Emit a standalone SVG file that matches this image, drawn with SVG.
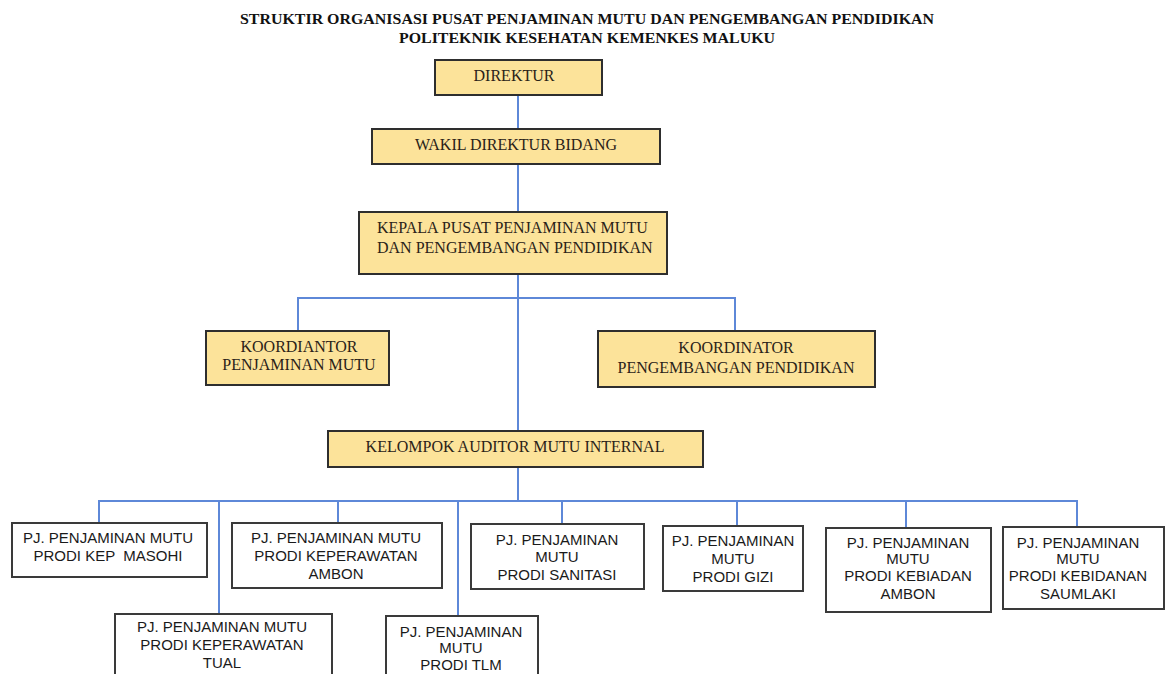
<svg xmlns="http://www.w3.org/2000/svg" width="1165" height="674" viewBox="0 0 1165 674">
<style>
.title{font-family:"Liberation Serif",serif;font-weight:bold;font-size:15px;fill:#111;text-anchor:middle}
.yb{fill:#FCE39A;stroke:#2e2e2e;stroke-width:2}
.wb{fill:#fff;stroke:#3a3a3a;stroke-width:2}
.st{font-family:"Liberation Serif",serif;font-size:16px;fill:#2a2218;text-anchor:middle}
.ss{font-family:"Liberation Sans",Arial,sans-serif;font-size:15px;fill:#1a1a1a;text-anchor:middle;white-space:pre}
.c{fill:none;stroke:#5E88D8;stroke-width:2}
</style>
<rect width="1165" height="674" fill="#fff"/>
<text class="title" x="587" y="24" textLength="694" lengthAdjust="spacingAndGlyphs">STRUKTIR ORGANISASI PUSAT PENJAMINAN MUTU DAN PENGEMBANGAN PENDIDIKAN</text>
<text class="title" x="587" y="43" textLength="376" lengthAdjust="spacingAndGlyphs">POLITEKNIK KESEHATAN KEMENKES MALUKU</text>
<g id="connectors">
<path class="c" d="M518 96 V501"/>
<path class="c" d="M298 331 V298 H735 V331"/>
<path class="c" d="M99 523 V501 H1077 V527"/>
<path class="c" d="M219 501 V614"/>
<path class="c" d="M338 501 V523"/>
<path class="c" d="M458 501 V616"/>
<path class="c" d="M562 501 V524"/>
<path class="c" d="M737 501 V526"/>
<path class="c" d="M906 501 V528"/>
</g>
<g id="direktur">
<rect class="yb" x="435" y="60" width="167" height="35"/>
<text class="st" x="514" y="81" font-size="17">DIREKTUR</text>
</g>
<g id="wakil">
<rect class="yb" x="372" y="129" width="288" height="35"/>
<text class="st" x="516" y="150">WAKIL DIREKTUR BIDANG</text>
</g>
<g id="kepala">
<rect class="yb" x="359" y="212" width="308" height="62"/>
<text class="st" x="377" y="233" style="text-anchor:start">KEPALA PUSAT PENJAMINAN MUTU</text>
<text class="st" x="377" y="253" style="text-anchor:start">DAN PENGEMBANGAN PENDIDIKAN</text>
</g>
<g id="koord-pm">
<rect class="yb" x="206" y="331" width="183" height="54"/>
<text class="st" x="299" y="352" font-size="15">KOORDIANTOR</text>
<text class="st" x="299" y="370" font-size="15">PENJAMINAN MUTU</text>
</g>
<g id="koord-pp">
<rect class="yb" x="598" y="331" width="277" height="56"/>
<text class="st" x="736" y="353" font-size="16.5">KOORDINATOR</text>
<text class="st" x="736" y="373" font-size="16.5">PENGEMBANGAN PENDIDIKAN</text>
</g>
<g id="kelompok">
<rect class="yb" x="328" y="431" width="375" height="36"/>
<text class="st" x="515" y="452">KELOMPOK AUDITOR MUTU INTERNAL</text>
</g>
<g id="masohi">
<rect class="wb" x="12" y="523" width="195" height="54"/>
<text class="ss" x="108" y="543">PJ. PENJAMINAN MUTU</text>
<text class="ss" x="108" y="561" xml:space="preserve">PRODI KEP  MASOHI</text>
</g>
<g id="tual">
<rect class="wb" x="115" y="614" width="217" height="70"/>
<text class="ss" x="222" y="632">PJ. PENJAMINAN MUTU</text>
<text class="ss" x="222" y="650">PRODI KEPERAWATAN</text>
<text class="ss" x="222" y="668">TUAL</text>
</g>
<g id="ambon">
<rect class="wb" x="232" y="523" width="210" height="65"/>
<text class="ss" x="336" y="543">PJ. PENJAMINAN MUTU</text>
<text class="ss" x="336" y="561">PRODI KEPERAWATAN</text>
<text class="ss" x="336" y="579">AMBON</text>
</g>
<g id="tlm">
<rect class="wb" x="386" y="616" width="152" height="70"/>
<text class="ss" x="461" y="637">PJ. PENJAMINAN</text>
<text class="ss" x="461" y="653">MUTU</text>
<text class="ss" x="461" y="670">PRODI TLM</text>
</g>
<g id="sanitasi">
<rect class="wb" x="471" y="524" width="173" height="65"/>
<text class="ss" x="557" y="545">PJ. PENJAMINAN</text>
<text class="ss" x="557" y="562">MUTU</text>
<text class="ss" x="557" y="580">PRODI SANITASI</text>
</g>
<g id="gizi">
<rect class="wb" x="663" y="526" width="140" height="65"/>
<text class="ss" x="733" y="546">PJ. PENJAMINAN</text>
<text class="ss" x="733" y="564">MUTU</text>
<text class="ss" x="733" y="582">PRODI GIZI</text>
</g>
<g id="kebiadan">
<rect class="wb" x="826" y="528" width="165" height="84"/>
<text class="ss" x="908" y="548">PJ. PENJAMINAN</text>
<text class="ss" x="908" y="564">MUTU</text>
<text class="ss" x="908" y="581">PRODI KEBIADAN</text>
<text class="ss" x="908" y="599">AMBON</text>
</g>
<g id="saumlaki">
<rect class="wb" x="1003" y="527" width="161" height="82"/>
<text class="ss" x="1078" y="548">PJ. PENJAMINAN</text>
<text class="ss" x="1078" y="564">MUTU</text>
<text class="ss" x="1078" y="581">PRODI KEBIDANAN</text>
<text class="ss" x="1078" y="599">SAUMLAKI</text>
</g>
</svg>
